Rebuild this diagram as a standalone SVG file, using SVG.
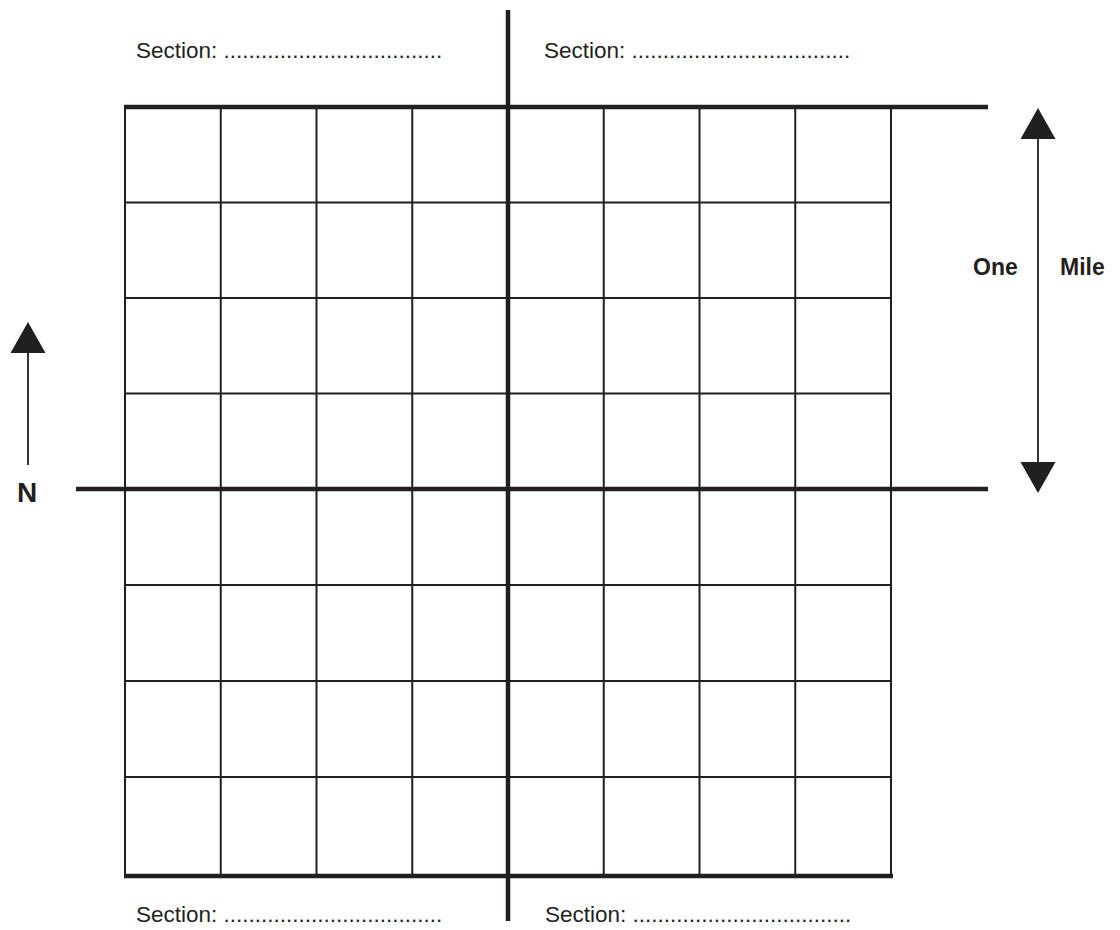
<svg xmlns="http://www.w3.org/2000/svg" width="1120" height="930" viewBox="0 0 1120 930">
<style>
.thin{stroke:#231f20;stroke-width:2;fill:none}
.thick{stroke:#231f20;stroke-width:4.5;fill:none}
.arr{stroke:#231f20;stroke-width:1.8;fill:none}
.head{fill:#231f20}
.lbl{font-family:"Liberation Sans",Arial,sans-serif;font-size:22.5px;fill:#231f20}
.bold{font-family:"Liberation Sans",Arial,sans-serif;font-weight:bold;fill:#231f20}
</style>
<rect width="1120" height="930" fill="#fff"/>
<g id="grid">
<g class="thin">
<line x1="125" y1="107" x2="125" y2="876"/>
<line x1="220.75" y1="107" x2="220.75" y2="876"/>
<line x1="316.5" y1="107" x2="316.5" y2="876"/>
<line x1="412.25" y1="107" x2="412.25" y2="876"/>
<line x1="603.75" y1="107" x2="603.75" y2="876"/>
<line x1="699.5" y1="107" x2="699.5" y2="876"/>
<line x1="795.25" y1="107" x2="795.25" y2="876"/>
<line x1="891" y1="107" x2="891" y2="876"/>
<line x1="125" y1="202.5" x2="891" y2="202.5"/>
<line x1="125" y1="298" x2="891" y2="298"/>
<line x1="125" y1="393.5" x2="891" y2="393.5"/>
<line x1="125" y1="585" x2="891" y2="585"/>
<line x1="125" y1="681" x2="891" y2="681"/>
<line x1="125" y1="777" x2="891" y2="777"/>
</g>
<g class="thick">
<line x1="124" y1="107" x2="988" y2="107"/>
<line x1="76" y1="489" x2="988" y2="489"/>
<line x1="124" y1="876" x2="893" y2="876"/>
<line x1="508" y1="10" x2="508" y2="921"/>
</g>
</g>
<g id="labels">
<text class="lbl" x="136" y="58">Section: ...................................</text>
<text class="lbl" x="544" y="58">Section: ...................................</text>
<text class="lbl" x="136" y="922">Section: ...................................</text>
<text class="lbl" x="545" y="922">Section: ...................................</text>
</g>
<g id="scale">
<line class="arr" x1="1038" y1="136" x2="1038" y2="465"/>
<polygon class="head" points="1038,108 1020.5,139 1055.5,139"/>
<polygon class="head" points="1038,493 1020.5,462 1055.5,462"/>
<text class="bold" x="973" y="275" font-size="23">One</text>
<text class="bold" x="1060" y="275" font-size="23">Mile</text>
</g>
<g id="north">
<line class="arr" x1="28" y1="350" x2="28" y2="465"/>
<polygon class="head" points="28,322 10.5,353 45.5,353"/>
<text class="bold" x="17" y="502" font-size="28">N</text>
</g>
</svg>
